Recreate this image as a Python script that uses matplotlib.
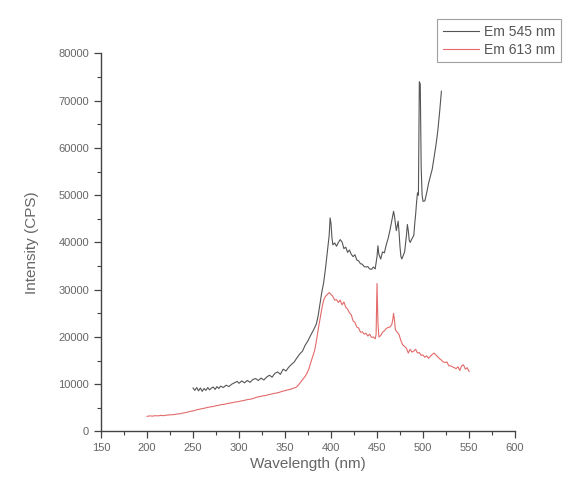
import numpy as np
import matplotlib
matplotlib.use("Agg")
import matplotlib.pyplot as plt
from matplotlib.ticker import MultipleLocator

plt.rcParams['font.family'] = ['Liberation Sans', 'DejaVu Sans']

# excitation spectrum, monitored at 545 nm
wl_545 = [250, 252, 254, 256, 258, 260, 262, 264, 266, 268, 270, 272, 274, 276, 278,
          280, 283, 286, 289, 292, 295, 298, 300, 303, 306, 309, 312, 315, 318, 321,
          324, 327, 330, 333, 336, 339, 342, 345, 348, 351, 354, 357, 360, 363, 366,
          369, 372, 375, 378, 381, 384, 386, 388, 390, 392, 394, 396, 398, 399, 400,
          401, 402, 404, 406, 408, 410, 412, 414, 416, 418, 420, 422, 424, 426, 428,
          430, 432, 434, 436, 438, 440, 442, 444, 446, 448, 450, 451, 452, 454, 456,
          458, 460, 462, 464, 466, 468, 469, 470, 471, 472, 473, 474, 475, 476, 477,
          478, 480, 482, 483, 484, 485, 486, 488, 490, 491, 492, 493, 494, 495, 496,
          497, 498, 499, 500, 502, 504, 506, 508, 510, 512, 514, 516, 518, 520]
cps_545 = [9200, 8700, 9300, 8600, 9200, 8500, 9100, 8700, 9300, 8800, 9200, 9400, 8900, 9500, 9100,
           9600, 9300, 9800, 9500, 10000, 10300, 10600, 10200, 10700, 10300, 10800, 10400, 11000, 11200, 10800,
           11300, 10900, 11500, 11900, 11500, 12300, 12600, 12100, 13200, 12800, 13600, 14200, 14700, 15600, 16400,
           17000, 18300, 19200, 20400, 21500, 22700, 24500, 27000, 29500, 31500, 34500, 38000, 41500, 45200, 44000,
           41000, 39500, 39900, 39200, 40000, 40600, 40100, 38700, 39000, 37900, 38400, 37500, 37000, 37400, 36300,
           36100, 35500, 35400, 34900, 34800, 34900, 34400, 34300, 34800, 34400, 37000, 39300, 37500, 36500, 38000,
           37800, 39500, 40800, 42500, 44500, 46600, 45500, 44000, 42500, 43500, 44500, 42000, 39000, 37000, 36500,
           37000, 38000, 41500, 43800, 42500, 40500, 40000, 40800, 41500, 44000, 46000, 48500, 50500, 50000, 74000,
           73500, 56000, 50000, 48700, 48800, 50500, 52500, 54000, 55500, 58000, 60500, 63500, 67500, 72000]

# excitation spectrum, monitored at 613 nm
wl_613 = [200, 203, 206, 209, 212, 215, 218, 221, 224, 227, 230, 233, 236, 239, 242,
          245, 248, 251, 254, 257, 260, 263, 266, 269, 272, 275, 278, 281, 284, 287,
          290, 293, 296, 299, 302, 305, 308, 311, 314, 317, 320, 323, 326, 329, 332,
          335, 338, 341, 344, 347, 350, 353, 356, 359, 362, 364, 366, 368, 370, 372,
          374, 376, 378, 380, 382, 384, 386, 388, 390, 392, 394, 396, 398, 400, 402,
          404, 406, 408, 410, 412, 414, 416, 418, 420, 422, 424, 426, 428, 430, 432,
          434, 436, 438, 440, 442, 444, 446, 448, 449, 450, 451, 452, 454, 456, 458,
          460, 462, 464, 466, 467, 468, 469, 470, 472, 474, 476, 478, 480, 482, 484,
          486, 488, 490, 492, 494, 496, 498, 500, 502, 504, 506, 508, 510, 512, 514,
          516, 518, 520, 522, 524, 526, 528, 530, 532, 534, 536, 538, 540, 542, 544,
          546, 548, 550]
cps_613 = [3200, 3300, 3250, 3350, 3300, 3400, 3350, 3450, 3500, 3550, 3600, 3700, 3750, 3900, 4000,
           4150, 4300, 4400, 4600, 4700, 4850, 4950, 5100, 5200, 5300, 5450, 5550, 5700, 5750, 5900,
           6000, 6100, 6250, 6300, 6450, 6550, 6700, 6800, 6900, 7100, 7300, 7400, 7550, 7600, 7800,
           7900, 8050, 8150, 8300, 8500, 8650, 8800, 8950, 9150, 9350, 9700, 10200, 10700, 11200, 11700,
           12400, 13300, 14600, 15800, 17000, 19000, 21500, 23800, 26000, 27800, 28600, 29000, 29400, 29000, 28600,
           27800, 27900, 27300, 27800, 26800, 27400, 26300, 25900, 25100, 24700, 23400, 23100, 22100, 21900, 21000,
           21100, 20600, 20800, 20200, 20600, 19900, 20000, 19600, 20500, 31300, 23000, 20000, 20300, 21000, 21300,
           21800, 22000, 22100, 22600, 23500, 25000, 23500, 21500, 21000, 20500, 19200, 18300, 18000, 17600, 16600,
           17400, 16800, 17000, 17400, 16600, 16700, 16100, 16200, 15700, 16000, 15500, 15900, 16300, 16600, 16200,
           15800, 15400, 15100, 14700, 14600, 14700, 13900, 13900, 13700, 13500, 13300, 13700, 12900, 13900, 14100,
           13200, 13500, 12700]

fig = plt.figure(figsize=(5.73, 4.91), dpi=100)
ax = fig.add_axes([0.1763, 0.1212, 0.7225, 0.77])

ax.plot(wl_545, cps_545, color="#555555", lw=0.8, label="Em 545 nm")
ax.plot(wl_613, cps_613, color="#e46a6a", lw=0.8, label="Em 613 nm")

ax.set_xlim(150, 600)
ax.set_ylim(0, 80000)
ax.xaxis.set_major_locator(MultipleLocator(50))
ax.xaxis.set_minor_locator(MultipleLocator(25))
ax.yaxis.set_major_locator(MultipleLocator(10000))
ax.yaxis.set_minor_locator(MultipleLocator(5000))

for s in ("top", "right"):
    ax.spines[s].set_visible(False)
for s in ("left", "bottom"):
    ax.spines[s].set_color("#444444")
    ax.spines[s].set_linewidth(1.0)

ax.tick_params(which="major", direction="out", length=5, width=0.9, color="#444444",
               labelsize=8, labelcolor="#666666")
ax.tick_params(which="minor", direction="out", length=3, width=0.8, color="#444444")

ax.set_xlabel("Wavelength (nm)", fontsize=11, color="#666666", labelpad=3)
ax.set_ylabel("Intensity (CPS)", fontsize=11, color="#666666", labelpad=14)

leg = fig.legend(loc="upper right", bbox_to_anchor=(568 / 573, 1 - 12 / 491),
                 fontsize=10, frameon=True, fancybox=False, handlelength=2.6,
                 borderpad=0.4, labelspacing=0.3, handletextpad=0.4)
leg.get_frame().set_edgecolor("#888888")
leg.get_frame().set_linewidth(0.8)
for t in leg.get_texts():
    t.set_color("#555555")

fig.savefig("out.png", dpi=100)
